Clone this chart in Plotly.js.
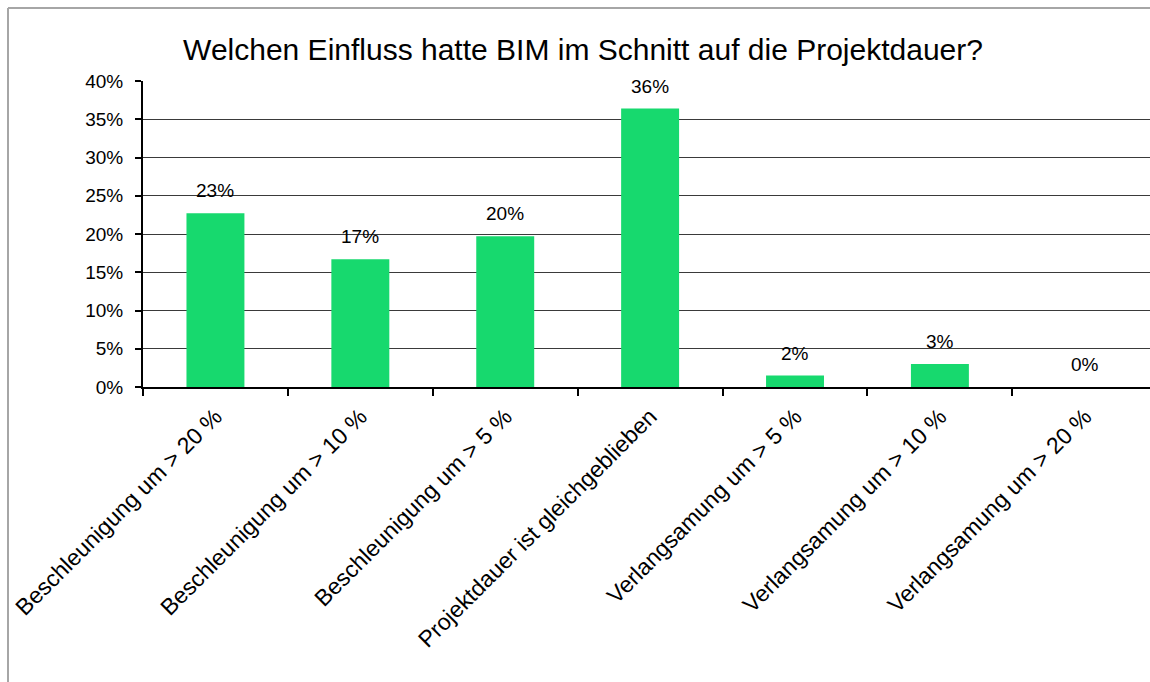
<!DOCTYPE html>
<html>
<head>
<meta charset="utf-8">
<script src="https://cdn.plot.ly/plotly-3.0.1.min.js"></script>
<style>
  html, body { margin: 0; padding: 0; background: #ffffff; overflow: hidden; }
  #chart { width: 1150px; height: 682px; }
</style>
</head>
<body>
<div id="chart"></div>
<script>
const categories = [
  "Beschleunigung um > 20 %",
  "Beschleunigung um > 10 %",
  "Beschleunigung um > 5 %",
  "Projektdauer ist gleichgeblieben",
  "Verlangsamung um > 5 %",
  "Verlangsamung um > 10 %",
  "Verlangsamung um > 20 %"
];
const values = [0.227, 0.167, 0.197, 0.364, 0.015, 0.030, 0.0];
const valueLabels = ["23%", "17%", "20%", "36%", "2%", "3%", "0%"];
const chartTitle = "Welchen Einfluss hatte BIM im Schnitt auf die Projektdauer?";

const FONT = "Liberation Sans, Arial, sans-serif";

const trace = {
  type: "bar",
  x: categories,
  y: values,
  width: 0.4,
  marker: { color: "#17D96E", line: { width: 0 } },
  hoverinfo: "skip"
};

const annotations = categories.map((c, i) => ({
  x: c, y: values[i], xref: "x", yref: "y",
  text: valueLabels[i], showarrow: false,
  yanchor: "bottom", yshift: 10,
  font: { family: FONT, size: 19, color: "#000" }
}));

const layout = {
  width: 1150, height: 682,
  margin: { l: 143, r: 0, t: 81, b: 295 },
  paper_bgcolor: "#ffffff", plot_bgcolor: "#ffffff",
  showlegend: false,
  title: {
    text: chartTitle,
    x: 0.507, xref: "container", xanchor: "center",
    y: 0.928, yref: "container", yanchor: "middle",
    font: { family: FONT, size: 30, color: "#000" }
  },
  xaxis: {
    type: "category",
    range: [-0.5, 6.45],
    tickson: "boundaries",
    ticks: "outside", ticklen: 7, tickwidth: 2, tickcolor: "#000",
    ticklabelstandoff: 5,
    showline: true, linecolor: "#000", linewidth: 2,
    showgrid: false, zeroline: false,
    tickangle: -45,
    tickfont: { family: FONT, size: 23, color: "#000" },
    fixedrange: true
  },
  yaxis: {
    range: [0, 0.4],
    dtick: 0.05, tick0: 0,
    tickformat: ".0%",
    ticks: "outside", ticklen: 6, tickwidth: 2, tickcolor: "#000",
    ticklabelstandoff: 8,
    showline: true, linecolor: "#000", linewidth: 2,
    showgrid: true, gridcolor: "#3a3a3a", gridwidth: 1,
    zeroline: false,
    tickfont: { family: FONT, size: 19, color: "#000" },
    fixedrange: true
  },
  annotations: annotations,
  shapes: [
    { type: "line", xref: "paper", yref: "paper",
      x0: (8 - 143) / 1007, x1: (8 - 143) / 1007, y0: (387 - 8) / 306, y1: (387 - 690) / 306,
      line: { color: "#a6a6a6", width: 2 } },
    { type: "line", xref: "paper", yref: "paper",
      x0: (8 - 143) / 1007, x1: 1.05, y0: (387 - 8) / 306, y1: (387 - 8) / 306,
      line: { color: "#a6a6a6", width: 2 } }
  ]
};

Plotly.newPlot("chart", [trace], layout, { displayModeBar: false, staticPlot: true });
</script>
</body>
</html>
